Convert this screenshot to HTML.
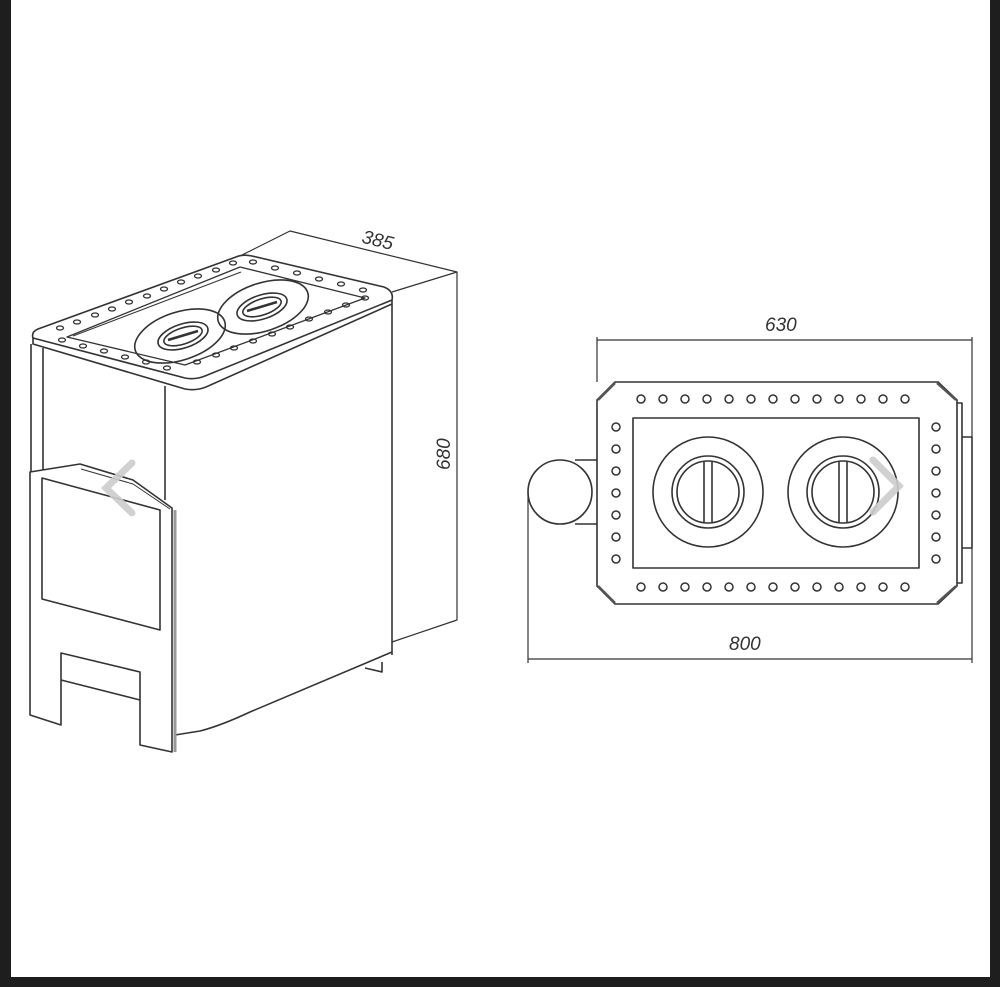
<!DOCTYPE html>
<html><head><meta charset="utf-8"><style>
html,body{margin:0;padding:0;background:#1e1e1e}
.wrap{position:absolute;left:11px;top:0;width:979px;height:977px;background:#fff}
svg{position:absolute;left:0;top:0}
text{font-family:"Liberation Sans",sans-serif;font-style:italic;fill:#333;font-size:19px}
</style></head><body>
<div class="wrap"></div>
<svg width="1000" height="987" viewBox="0 0 1000 987">
<g fill="none" stroke="#333" stroke-width="1.6" stroke-linejoin="round">
<!-- dimension 385 -->
<path d="M240 256 L290 231 L457 272" stroke-width="1.2"/>
<path d="M392 292 L457 272 L457 620 L392 642" stroke-width="1.2"/>
<!-- top plate -->
<path d="M33 338 Q31 332 38 329 L236 257 Q243 254 252 256 L384 287 Q394 291 392 300 L205 376 Q195 380 185 378 Z"/>
<path d="M33 338 L33 344 L185 389 Q196 391 206 387 L392 304 L392 300"/>
<!-- inner frame -->
<path d="M67 337 L240 267 L365 298 L185 365 Z" stroke-width="1.3"/>
<path d="M73 336 L241 272" stroke-width="1"/>
<!-- burners -->
<ellipse cx="180" cy="336" rx="47" ry="24" transform="rotate(-18 180 336)"/>
<ellipse cx="263" cy="307" rx="47" ry="24" transform="rotate(-18 263 307)"/>
<ellipse cx="183" cy="336" rx="26" ry="12" transform="rotate(-18 183 336)"/>
<ellipse cx="183" cy="336" rx="20" ry="8" transform="rotate(-18 183 336)"/>
<ellipse cx="262" cy="307" rx="26" ry="12" transform="rotate(-18 262 307)"/>
<ellipse cx="262" cy="307" rx="20" ry="8" transform="rotate(-18 262 307)"/>
<path d="M168 340 L198 331 M247 311 L277 302" stroke-width="2.5"/>
<!-- body -->
<path d="M31 344 L31 472 M43 348 L43 470"/>
<path d="M165 386 L165 500"/>
<path d="M392 304 L392 655"/>
<path d="M175 735 L200 731 Q220 726 250 712 L392 652"/>
<path d="M365 668 L382 672 L382 662"/>
<!-- door / front panel -->
<path d="M30 472 L30 715 L61 725 L61 653 L140 672 L140 745 L172 752 L172 508 L133 480 L80 464 Z"/>
<path d="M175 510 L175 752" stroke="#999" stroke-width="3"/>
<path d="M81 469 L133 484 L170 509" stroke-width="1"/>
<path d="M42 478 L160 510 L160 630 L42 599 Z"/>
<path d="M61 680 L140 700"/>
</g>
<g fill="none" stroke="#333" stroke-width="1.3">
<g>
<ellipse cx="60" cy="328" rx="3.5" ry="2"/><ellipse cx="77" cy="322" rx="3.5" ry="2"/><ellipse cx="95" cy="315" rx="3.5" ry="2"/><ellipse cx="112" cy="309" rx="3.5" ry="2"/><ellipse cx="129" cy="302" rx="3.5" ry="2"/><ellipse cx="147" cy="296" rx="3.5" ry="2"/><ellipse cx="164" cy="289" rx="3.5" ry="2"/><ellipse cx="181" cy="282" rx="3.5" ry="2"/><ellipse cx="198" cy="276" rx="3.5" ry="2"/><ellipse cx="216" cy="270" rx="3.5" ry="2"/><ellipse cx="233" cy="263" rx="3.5" ry="2"/>
<ellipse cx="253" cy="262" rx="3.5" ry="2"/><ellipse cx="275" cy="268" rx="3.5" ry="2"/><ellipse cx="297" cy="273" rx="3.5" ry="2"/><ellipse cx="319" cy="279" rx="3.5" ry="2"/><ellipse cx="341" cy="284" rx="3.5" ry="2"/><ellipse cx="363" cy="290" rx="3.5" ry="2"/>
<ellipse cx="62" cy="340" rx="3.5" ry="2"/><ellipse cx="83" cy="346" rx="3.5" ry="2"/><ellipse cx="104" cy="351" rx="3.5" ry="2"/><ellipse cx="125" cy="357" rx="3.5" ry="2"/><ellipse cx="146" cy="362" rx="3.5" ry="2"/><ellipse cx="167" cy="368" rx="3.5" ry="2"/>
<ellipse cx="197" cy="362" rx="3.5" ry="2"/><ellipse cx="216" cy="355" rx="3.5" ry="2"/><ellipse cx="234" cy="348" rx="3.5" ry="2"/><ellipse cx="253" cy="341" rx="3.5" ry="2"/><ellipse cx="272" cy="334" rx="3.5" ry="2"/><ellipse cx="290" cy="327" rx="3.5" ry="2"/><ellipse cx="309" cy="319" rx="3.5" ry="2"/><ellipse cx="328" cy="312" rx="3.5" ry="2"/><ellipse cx="346" cy="305" rx="3.5" ry="2"/><ellipse cx="365" cy="298" rx="3.5" ry="2"/>
</g>
</g>
<text x="362" y="247" transform="rotate(14 380 240)">385</text>
<text x="0" y="0" transform="translate(450 470) rotate(-90)">680</text>

<!-- right view -->
<g fill="none" stroke="#333" stroke-width="1.6" stroke-linejoin="round">
<path d="M597 337 L597 382 M972 337 L972 437 M597 340 L972 340" stroke-width="1.2"/>
<path d="M528 492 L528 663 M972 548 L972 663 M528 659 L972 659" stroke-width="1.2"/>
<path d="M615 382 L938 382 L957 400 L957 586 L938 604 L615 604 L597 586 L597 400 Z"/>
<path d="M598 400 L615 383 M937 383 L956 400 M598 586 L615 603 M937 603 L956 586" stroke-width="2.5" stroke="#555"/>
<path d="M957 403 L962 403 L962 583 L957 583"/>
<path d="M962 437 L972 437 L972 548 L962 548"/>
<rect x="633" y="418" width="286" height="150"/>
<circle cx="560" cy="492" r="32"/>
<path d="M575 460 L597 460 M575 524 L597 524"/>
<circle cx="708" cy="492" r="55"/><circle cx="843" cy="492" r="55"/>
<circle cx="708" cy="492" r="36"/><circle cx="708" cy="492" r="31"/>
<circle cx="843" cy="492" r="36"/><circle cx="843" cy="492" r="31"/>
<path d="M704 462 L704 522 M712 462 L712 522 M839 462 L839 522 M847 462 L847 522"/>
</g>
<g fill="none" stroke="#333" stroke-width="1.5">
<circle cx="641" cy="399" r="4"/><circle cx="663" cy="399" r="4"/><circle cx="685" cy="399" r="4"/><circle cx="707" cy="399" r="4"/><circle cx="729" cy="399" r="4"/><circle cx="751" cy="399" r="4"/><circle cx="773" cy="399" r="4"/><circle cx="795" cy="399" r="4"/><circle cx="817" cy="399" r="4"/><circle cx="839" cy="399" r="4"/><circle cx="861" cy="399" r="4"/><circle cx="883" cy="399" r="4"/><circle cx="905" cy="399" r="4"/>
<circle cx="641" cy="587" r="4"/><circle cx="663" cy="587" r="4"/><circle cx="685" cy="587" r="4"/><circle cx="707" cy="587" r="4"/><circle cx="729" cy="587" r="4"/><circle cx="751" cy="587" r="4"/><circle cx="773" cy="587" r="4"/><circle cx="795" cy="587" r="4"/><circle cx="817" cy="587" r="4"/><circle cx="839" cy="587" r="4"/><circle cx="861" cy="587" r="4"/><circle cx="883" cy="587" r="4"/><circle cx="905" cy="587" r="4"/>
<circle cx="616" cy="427" r="4"/><circle cx="616" cy="449" r="4"/><circle cx="616" cy="471" r="4"/><circle cx="616" cy="493" r="4"/><circle cx="616" cy="515" r="4"/><circle cx="616" cy="537" r="4"/><circle cx="616" cy="559" r="4"/>
<circle cx="936" cy="427" r="4"/><circle cx="936" cy="449" r="4"/><circle cx="936" cy="471" r="4"/><circle cx="936" cy="493" r="4"/><circle cx="936" cy="515" r="4"/><circle cx="936" cy="537" r="4"/><circle cx="936" cy="559" r="4"/>
</g>
<text x="765" y="331">630</text>
<text x="729" y="650">800</text>
<!-- nav chevrons -->
<path d="M132 463 L106 488 L132 513" fill="none" stroke="#ccc" stroke-width="7" stroke-linecap="round" opacity="0.9"/>
<path d="M873 460 L899 486 L873 512" fill="none" stroke="#ccc" stroke-width="7" stroke-linecap="round" opacity="0.9"/>
</svg>
</body></html>
